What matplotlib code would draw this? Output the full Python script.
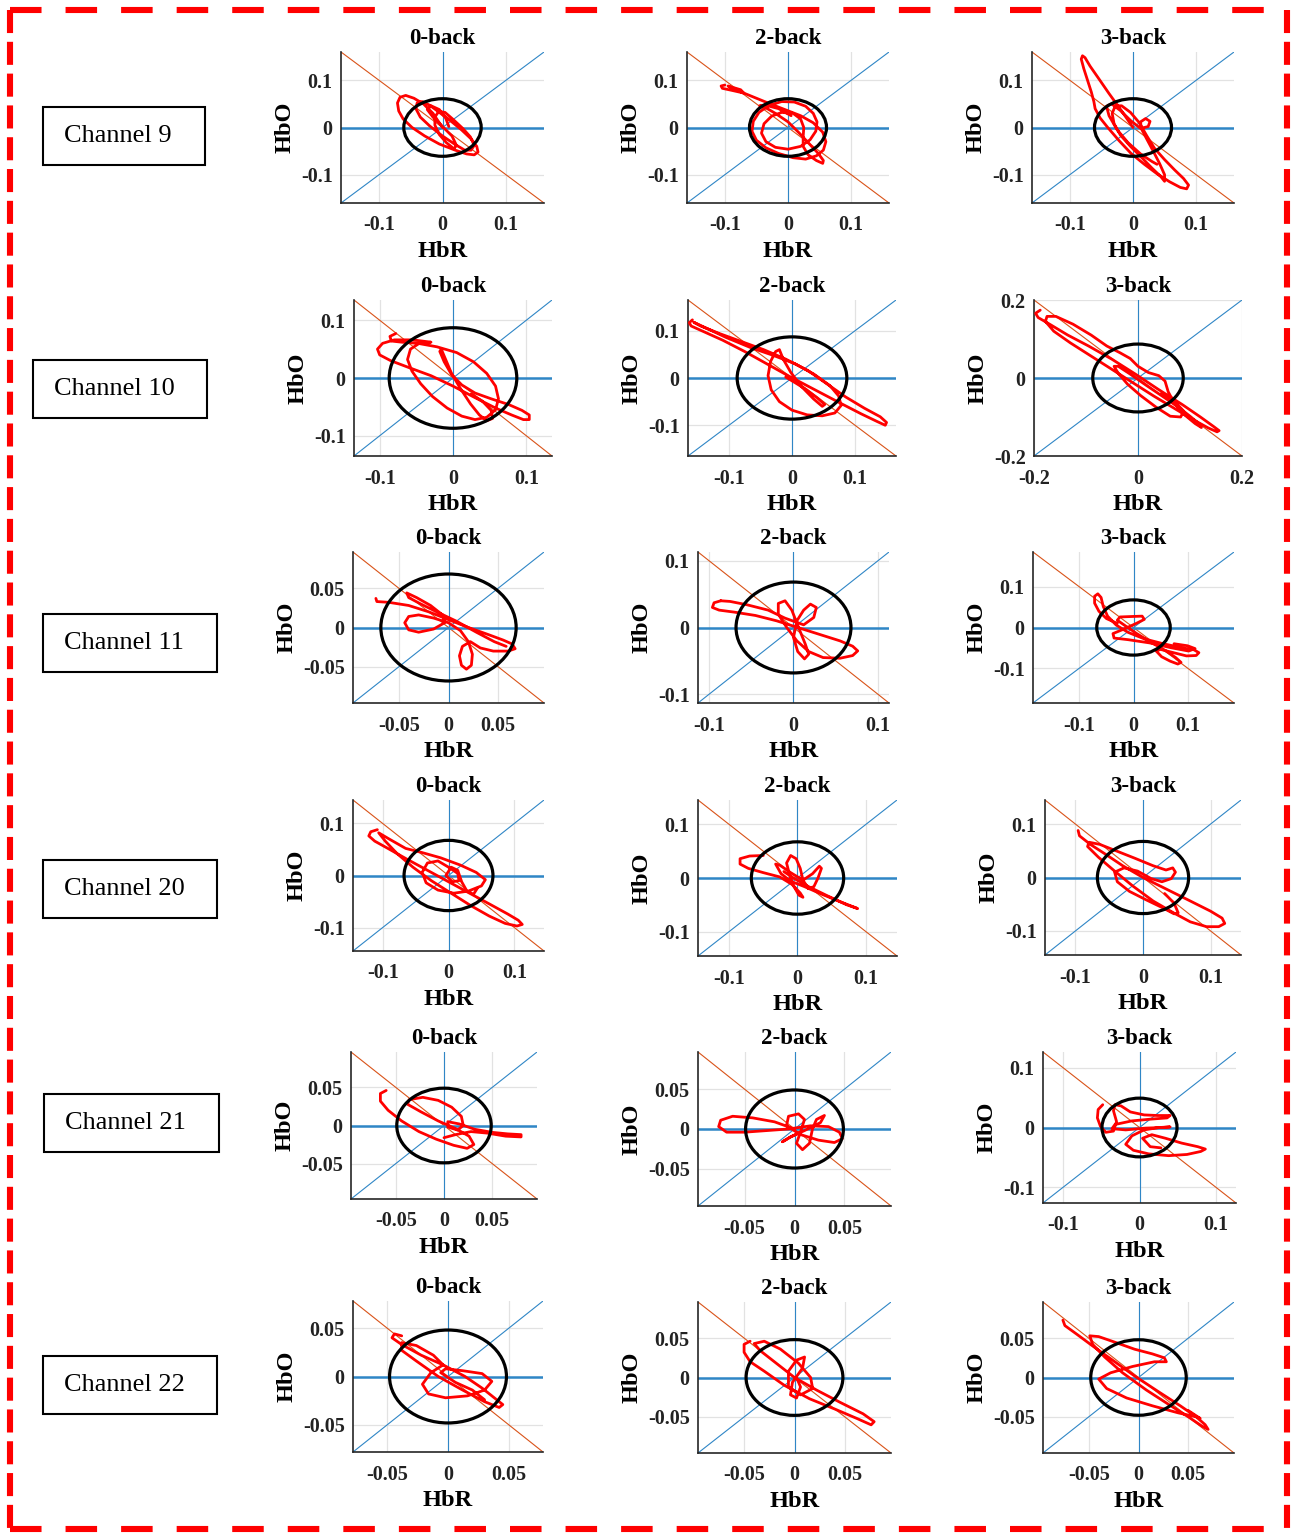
import matplotlib.pyplot as plt
import numpy as np
from matplotlib.patches import Circle, Rectangle
from matplotlib.lines import Line2D

plt.rcParams['font.family'] = ['Liberation Serif', 'DejaVu Serif']
plt.rcParams['axes.unicode_minus'] = False
plt.rcParams['lines.scale_dashes'] = False

W, H = 1296, 1534

channels = ["Channel 9", "Channel 10", "Channel 11", "Channel 20", "Channel 21", "Channel 22"]
tasks = ["0-back", "2-back", "3-back"]

# axis half-range per panel (row = channel, col = task)
axis_lim = [
    [0.16, 0.16, 0.16],
    [0.135, 0.165, 0.2],
    [0.096, 0.113, 0.186],
    [0.145, 0.1455, 0.145],
    [0.0965, 0.0967, 0.126],
    [0.078, 0.0957, 0.096],
]
tick_vals = [
    [[-0.1, 0, 0.1], [-0.1, 0, 0.1], [-0.1, 0, 0.1]],
    [[-0.1, 0, 0.1], [-0.1, 0, 0.1], [-0.2, 0, 0.2]],
    [[-0.05, 0, 0.05], [-0.1, 0, 0.1], [-0.1, 0, 0.1]],
    [[-0.1, 0, 0.1], [-0.1, 0, 0.1], [-0.1, 0, 0.1]],
    [[-0.05, 0, 0.05], [-0.05, 0, 0.05], [-0.1, 0, 0.1]],
    [[-0.05, 0, 0.05], [-0.05, 0, 0.05], [-0.05, 0, 0.05]],
]
# radius of the black reference circle for each channel
circle_r = [0.061, 0.087, 0.068, 0.0675, 0.049, 0.048]

# HbR / HbO trajectories as (HbR, HbO) pairs
ch9_0back = [(0.0, 0.0), (-0.015, 0.03), (-0.03, 0.05), (-0.045, 0.062), (-0.058, 0.068), (-0.067, 0.064),
             (-0.071, 0.052), (-0.069, 0.035), (-0.062, 0.018), (-0.048, 0.0), (-0.028, -0.018), (-0.005, -0.035),
             (0.02, -0.048), (0.038, -0.056), (0.05, -0.058), (0.056, -0.052), (0.054, -0.04), (0.045, -0.024),
             (0.03, -0.005), (0.012, 0.015), (-0.005, 0.032), (-0.02, 0.047), (-0.032, 0.055), (-0.04, 0.052),
             (-0.042, 0.04), (-0.035, 0.022), (-0.02, 0.003), (0.0, -0.018), (0.02, -0.036), (0.035, -0.048),
             (0.045, -0.048), (0.05, -0.038), (0.044, -0.02), (0.032, -0.002), (0.016, 0.018), (0.004, 0.032),
             (-0.006, 0.034), (-0.012, 0.022), (-0.012, 0.005), (-0.005, -0.015), (0.006, -0.032), (0.018, -0.045),
             (0.022, -0.038), (0.015, -0.018), (0.0, 0.002), (-0.015, 0.022), (-0.024, 0.038), (-0.018, 0.046),
             (-0.005, 0.038), (0.005, 0.02), (0.01, 0.002)]
ch9_2back = [(-0.1, 0.09), (-0.106, 0.088), (-0.104, 0.083), (-0.09, 0.079), (-0.07, 0.073), (-0.075, 0.08),
             (-0.095, 0.088), (-0.09, 0.084), (-0.072, 0.074), (-0.05, 0.062), (-0.028, 0.05), (-0.005, 0.038),
             (0.02, 0.025), (0.04, 0.01), (0.055, -0.01), (0.06, -0.03), (0.056, -0.048), (0.045, -0.06),
             (0.028, -0.067), (0.008, -0.064), (-0.015, -0.055), (-0.035, -0.043), (-0.05, -0.027), (-0.057, -0.008),
             (-0.055, 0.013), (-0.046, 0.032), (-0.03, 0.047), (-0.01, 0.055), (0.01, 0.054), (0.028, 0.045),
             (0.04, 0.03), (0.046, 0.012), (0.044, -0.008), (0.035, -0.026), (0.02, -0.04), (0.0, -0.046),
             (-0.02, -0.042), (-0.035, -0.03), (-0.042, -0.012), (-0.038, 0.008), (-0.026, 0.024), (-0.01, 0.032),
             (0.008, 0.03), (0.02, 0.018), (0.025, 0.0), (0.024, -0.02), (0.024, -0.04), (0.032, -0.058),
             (0.045, -0.07), (0.055, -0.076), (0.056, -0.07), (0.048, -0.055), (0.034, -0.035), (0.018, -0.012),
             (0.0, 0.012), (-0.02, 0.03), (-0.038, 0.044), (-0.045, 0.046), (-0.035, 0.047), (-0.015, 0.04),
             (0.005, 0.025)]
ch9_3back = [(0.0, 0.0), (-0.018, 0.035), (-0.038, 0.072), (-0.055, 0.105), (-0.068, 0.13), (-0.076, 0.148),
             (-0.08, 0.152), (-0.082, 0.145), (-0.078, 0.125), (-0.072, 0.1), (-0.066, 0.075), (-0.062, 0.055),
             (-0.06, 0.04), (-0.052, 0.02), (-0.04, 0.0), (-0.022, -0.028), (-0.003, -0.055), (0.018, -0.078),
             (0.038, -0.098), (0.058, -0.115), (0.075, -0.127), (0.085, -0.13), (0.088, -0.122), (0.08, -0.108),
             (0.066, -0.09), (0.05, -0.068), (0.034, -0.044), (0.022, -0.018), (0.01, 0.01), (-0.004, 0.032),
             (-0.018, 0.046), (-0.028, 0.046), (-0.033, 0.03), (-0.03, 0.008), (-0.02, -0.016), (-0.004, -0.04),
             (0.014, -0.064), (0.03, -0.086), (0.044, -0.104), (0.05, -0.114), (0.05, -0.1), (0.042, -0.076),
             (0.032, -0.05), (0.022, -0.025), (0.013, -0.002), (0.012, 0.012), (0.02, 0.019), (0.027, 0.013),
             (0.024, 0.002), (0.012, -0.002), (-0.004, 0.015), (-0.02, 0.036), (-0.034, 0.05), (-0.042, 0.045),
             (-0.038, 0.025), (-0.025, -0.005), (-0.008, -0.032), (0.012, -0.056), (0.03, -0.072), (0.038, -0.078)]

ch10_0back = [(-0.078, 0.077), (-0.086, 0.072), (-0.084, 0.064), (-0.07, 0.062), (-0.048, 0.06), (-0.022, 0.054),
              (0.005, 0.044), (0.028, 0.028), (0.046, 0.008), (0.058, -0.014), (0.062, -0.036), (0.058, -0.055),
              (0.046, -0.068), (0.03, -0.072), (0.012, -0.066), (-0.008, -0.052), (-0.028, -0.032), (-0.044, -0.01),
              (-0.056, 0.012), (-0.062, 0.032), (-0.058, 0.05), (-0.046, 0.06), (-0.03, 0.062), (-0.055, 0.066),
              (-0.08, 0.066), (-0.096, 0.06), (-0.103, 0.05), (-0.1, 0.04), (-0.085, 0.03), (-0.06, 0.018),
              (-0.03, 0.004), (0.0, -0.014), (0.03, -0.034), (0.058, -0.052), (0.08, -0.064), (0.096, -0.072),
              (0.104, -0.072), (0.104, -0.064), (0.094, -0.056), (0.076, -0.046), (0.052, -0.036), (0.03, -0.026),
              (0.012, -0.012), (-0.002, 0.006), (-0.012, 0.028), (-0.018, 0.046), (-0.016, 0.05), (-0.01, 0.032),
              (-0.002, 0.008), (0.01, -0.018), (0.024, -0.045), (0.036, -0.064), (0.046, -0.074), (0.054, -0.07),
              (0.052, -0.056), (0.04, -0.04), (0.025, -0.028)]
ch10_2back = [(-0.158, 0.123), (-0.163, 0.117), (-0.16, 0.11), (-0.14, 0.098), (-0.11, 0.08), (-0.075, 0.056),
              (-0.04, 0.03), (-0.005, 0.004), (0.035, -0.024), (0.075, -0.052), (0.11, -0.076), (0.135, -0.092),
              (0.148, -0.1), (0.15, -0.094), (0.14, -0.082), (0.115, -0.064), (0.085, -0.04), (0.055, -0.012),
              (0.025, 0.016), (-0.01, 0.04), (-0.045, 0.06), (-0.08, 0.077), (-0.115, 0.094), (-0.145, 0.11),
              (-0.156, 0.118), (-0.14, 0.108), (-0.105, 0.086), (-0.065, 0.064), (-0.03, 0.048), (0.005, 0.03),
              (0.035, 0.008), (0.06, -0.016), (0.074, -0.038), (0.078, -0.058), (0.068, -0.074), (0.048, -0.08),
              (0.024, -0.078), (0.0, -0.068), (-0.02, -0.05), (-0.033, -0.025), (-0.038, 0.005), (-0.034, 0.035),
              (-0.026, 0.056), (-0.02, 0.06), (-0.014, 0.04), (-0.002, 0.012), (0.015, -0.018), (0.034, -0.044),
              (0.048, -0.06), (0.052, -0.056), (0.04, -0.042), (0.022, -0.024), (0.005, -0.01), (-0.01, 0.002)]
ch10_3back = [(-0.188, 0.174), (-0.197, 0.166), (-0.192, 0.155), (-0.17, 0.138), (-0.135, 0.11), (-0.095, 0.082),
              (-0.05, 0.048), (-0.005, 0.01), (0.04, -0.03), (0.085, -0.068), (0.12, -0.1), (0.145, -0.124),
              (0.156, -0.135), (0.152, -0.138), (0.135, -0.128), (0.105, -0.106), (0.07, -0.078), (0.03, -0.046),
              (-0.01, -0.012), (-0.05, 0.022), (-0.09, 0.056), (-0.13, 0.09), (-0.162, 0.12), (-0.178, 0.145),
              (-0.175, 0.158), (-0.158, 0.158), (-0.125, 0.138), (-0.09, 0.11), (-0.06, 0.082), (-0.035, 0.065),
              (-0.015, 0.05), (0.0, 0.03), (0.02, 0.014), (0.04, 0.006), (0.052, -0.008), (0.058, -0.035),
              (0.07, -0.065), (0.09, -0.095), (0.11, -0.117), (0.122, -0.127), (0.118, -0.118), (0.1, -0.098),
              (0.075, -0.072), (0.045, -0.045), (0.015, -0.018), (-0.015, 0.01), (-0.038, 0.03), (-0.046, 0.03),
              (-0.038, 0.012), (-0.02, -0.016), (0.005, -0.045), (0.035, -0.075), (0.062, -0.098), (0.082, -0.1),
              (0.088, -0.085), (0.07, -0.06), (0.045, -0.04)]

ch11_0back = [(-0.073, 0.037), (-0.072, 0.033), (-0.06, 0.032), (-0.04, 0.028), (-0.02, 0.02), (0.0, 0.01),
              (0.02, 0.0), (0.04, -0.009), (0.055, -0.016), (0.064, -0.021), (0.067, -0.027), (0.06, -0.03),
              (0.045, -0.03), (0.032, -0.026), (0.022, -0.018), (0.014, -0.024), (0.011, -0.036), (0.013, -0.048),
              (0.018, -0.053), (0.023, -0.048), (0.024, -0.034), (0.02, -0.018), (0.012, -0.004), (0.0, 0.006),
              (-0.015, 0.012), (-0.03, 0.016), (-0.04, 0.014), (-0.044, 0.006), (-0.04, -0.003), (-0.03, -0.006),
              (-0.015, -0.002), (-0.004, 0.006), (-0.006, 0.016), (-0.018, 0.028), (-0.032, 0.038), (-0.042, 0.044),
              (-0.04, 0.038), (-0.028, 0.03), (-0.012, 0.02), (0.008, 0.008), (0.028, -0.006), (0.046, -0.018),
              (0.058, -0.024)]
ch11_2back = [(-0.086, 0.04), (-0.094, 0.037), (-0.096, 0.03), (-0.088, 0.026), (-0.07, 0.023), (-0.045, 0.018),
              (-0.02, 0.01), (0.005, 0.0), (0.03, -0.01), (0.055, -0.02), (0.07, -0.028), (0.076, -0.035),
              (0.07, -0.042), (0.055, -0.046), (0.035, -0.045), (0.018, -0.036), (0.004, -0.02), (-0.008, 0.0),
              (-0.018, 0.02), (-0.018, 0.036), (-0.01, 0.04), (-0.002, 0.026), (0.006, 0.0), (0.014, -0.025),
              (0.018, -0.04), (0.013, -0.047), (0.005, -0.036), (0.0, -0.015), (0.004, 0.01), (0.012, 0.026),
              (0.02, 0.035), (0.027, 0.03), (0.024, 0.015), (0.012, 0.004), (-0.01, 0.014), (-0.03, 0.026),
              (-0.055, 0.034), (-0.075, 0.039), (-0.086, 0.04)]
ch11_3back = [(-0.03, 0.01), (-0.05, 0.022), (-0.064, 0.04), (-0.072, 0.06), (-0.072, 0.077), (-0.066, 0.083),
              (-0.06, 0.074), (-0.056, 0.052), (-0.048, 0.028), (-0.032, 0.006), (-0.01, -0.012), (0.02, -0.028),
              (0.055, -0.04), (0.09, -0.05), (0.112, -0.055), (0.121, -0.062), (0.116, -0.069), (0.098, -0.07),
              (0.074, -0.062), (0.05, -0.054), (0.042, -0.058), (0.052, -0.072), (0.068, -0.083), (0.082, -0.09),
              (0.088, -0.086), (0.078, -0.074), (0.058, -0.056), (0.032, -0.036), (0.006, -0.015), (-0.015, 0.004),
              (-0.03, 0.018), (-0.025, 0.026), (-0.005, 0.027), (0.016, 0.028), (0.02, 0.02), (0.005, 0.01),
              (-0.018, -0.004), (-0.038, -0.015), (-0.036, -0.026), (-0.01, -0.03), (0.03, -0.038), (0.07, -0.05),
              (0.102, -0.058), (0.114, -0.052), (0.1, -0.045), (0.075, -0.04)]

ch20_0back = [(-0.108, 0.088), (-0.118, 0.084), (-0.121, 0.076), (-0.112, 0.066), (-0.092, 0.052), (-0.064, 0.032),
              (-0.032, 0.01), (0.0, -0.012), (0.032, -0.034), (0.064, -0.056), (0.09, -0.074), (0.106, -0.086),
              (0.112, -0.094), (0.104, -0.097), (0.086, -0.092), (0.062, -0.078), (0.034, -0.058), (0.004, -0.034),
              (-0.026, -0.01), (-0.054, 0.016), (-0.078, 0.042), (-0.096, 0.066), (-0.106, 0.082), (-0.09, 0.07),
              (-0.065, 0.052), (-0.04, 0.044), (-0.012, 0.034), (0.018, 0.02), (0.042, 0.006), (0.056, -0.008),
              (0.05, -0.02), (0.03, -0.03), (0.008, -0.034), (-0.016, -0.028), (-0.034, -0.014), (-0.04, 0.006),
              (-0.032, 0.024), (-0.016, 0.028), (0.0, 0.016), (0.014, 0.004), (0.016, -0.01), (0.006, -0.012),
              (-0.004, 0.0), (0.004, 0.016), (0.014, 0.01), (0.02, -0.012), (0.028, -0.03), (0.038, -0.036),
              (0.044, -0.024)]
ch20_2back = [(-0.05, 0.042), (-0.07, 0.041), (-0.084, 0.036), (-0.084, 0.026), (-0.072, 0.018), (-0.05, 0.01),
              (-0.026, 0.002), (-0.008, -0.012), (0.004, -0.028), (0.008, -0.036), (0.002, -0.032), (-0.006, -0.014),
              (-0.012, 0.008), (-0.016, 0.028), (-0.01, 0.042), (-0.002, 0.036), (0.004, 0.018), (0.008, -0.004),
              (0.016, -0.02), (0.024, -0.016), (0.03, 0.0), (0.035, 0.018), (0.032, 0.022), (0.022, 0.008),
              (0.008, -0.004), (-0.01, 0.01), (-0.026, 0.024), (-0.032, 0.026), (-0.024, 0.008), (-0.01, -0.006),
              (0.01, -0.016), (0.035, -0.03), (0.062, -0.044), (0.088, -0.057), (0.072, -0.05), (0.045, -0.034),
              (0.016, -0.016), (-0.006, 0.0), (-0.02, 0.012)]
ch20_3back = [(-0.096, 0.088), (-0.094, 0.078), (-0.078, 0.062), (-0.056, 0.044), (-0.03, 0.022), (0.0, 0.0),
              (0.035, -0.022), (0.07, -0.044), (0.1, -0.063), (0.117, -0.076), (0.121, -0.086), (0.112, -0.092),
              (0.094, -0.092), (0.07, -0.083), (0.045, -0.066), (0.015, -0.044), (-0.015, -0.016), (-0.042, 0.012),
              (-0.066, 0.038), (-0.082, 0.058), (-0.08, 0.066), (-0.064, 0.062), (-0.04, 0.05), (-0.012, 0.036),
              (0.015, 0.022), (0.034, 0.014), (0.044, 0.018), (0.048, 0.01), (0.042, -0.002), (0.028, -0.008),
              (0.012, -0.002), (-0.008, 0.012), (-0.028, 0.018), (-0.042, 0.01), (-0.038, -0.008), (-0.02, -0.026),
              (0.005, -0.042), (0.028, -0.056), (0.046, -0.068), (0.052, -0.066), (0.046, -0.048), (0.032, -0.03)]

ch21_0back = [(-0.06, 0.046), (-0.066, 0.042), (-0.066, 0.032), (-0.058, 0.02), (-0.044, 0.006), (-0.026, -0.008),
              (-0.008, -0.018), (0.01, -0.026), (0.024, -0.03), (0.031, -0.025), (0.026, -0.014), (0.012, -0.004),
              (-0.006, 0.006), (-0.024, 0.018), (-0.038, 0.028), (-0.036, 0.034), (-0.022, 0.037), (-0.006, 0.033),
              (0.008, 0.024), (0.018, 0.012), (0.02, 0.0), (0.014, -0.006), (0.004, -0.002), (0.004, 0.005),
              (0.016, 0.002), (0.032, -0.005), (0.05, -0.009), (0.066, -0.011), (0.08, -0.012), (0.08, -0.015),
              (0.064, -0.014), (0.045, -0.01), (0.028, -0.008), (0.012, -0.012), (0.0, -0.016)]
ch21_2back = [(0.0, 0.0), (-0.02, 0.009), (-0.042, 0.014), (-0.062, 0.016), (-0.074, 0.011), (-0.076, 0.003),
              (-0.068, -0.004), (-0.05, -0.004), (-0.028, -0.002), (-0.006, 0.0), (0.016, 0.004), (0.034, 0.003),
              (0.045, -0.004), (0.048, -0.012), (0.04, -0.017), (0.024, -0.014), (0.006, -0.007), (-0.008, 0.004),
              (-0.006, 0.016), (0.004, 0.019), (0.01, 0.012), (0.006, -0.004), (0.002, -0.018), (0.008, -0.026),
              (0.015, -0.018), (0.018, 0.0), (0.022, 0.012), (0.03, 0.017), (0.026, 0.008), (0.01, -0.002),
              (-0.004, -0.01), (-0.012, -0.016), (-0.004, -0.01), (0.006, -0.004)]
ch21_3back = [(-0.048, 0.038), (-0.054, 0.03), (-0.055, 0.016), (-0.051, 0.002), (-0.044, -0.008), (-0.034, -0.006),
              (-0.03, 0.01), (-0.034, 0.028), (-0.032, 0.038), (-0.024, 0.036), (-0.012, 0.026), (0.006, 0.021),
              (0.024, 0.02), (0.04, 0.02), (0.036, 0.016), (0.015, 0.014), (-0.01, 0.011), (-0.032, 0.005),
              (-0.036, -0.002), (-0.018, -0.004), (0.008, -0.001), (0.03, 0.0), (0.04, 0.001), (0.026, 0.0),
              (0.006, -0.004), (-0.01, -0.014), (-0.018, -0.028), (-0.008, -0.038), (0.012, -0.044), (0.038, -0.047),
              (0.062, -0.045), (0.08, -0.04), (0.086, -0.036), (0.076, -0.032), (0.055, -0.026), (0.034, -0.018),
              (0.016, -0.012), (0.004, -0.018), (0.014, -0.032), (0.028, -0.034)]

ch22_0back = [(-0.038, 0.042), (-0.044, 0.044), (-0.046, 0.04), (-0.038, 0.033), (-0.022, 0.022), (-0.004, 0.012),
              (0.014, 0.0), (0.028, -0.012), (0.038, -0.022), (0.045, -0.029), (0.042, -0.032), (0.03, -0.026),
              (0.012, -0.014), (-0.008, 0.0), (-0.026, 0.016), (-0.038, 0.027), (-0.038, 0.035), (-0.026, 0.032),
              (-0.012, 0.022), (-0.004, 0.012), (-0.014, 0.004), (-0.021, -0.008), (-0.016, -0.018), (-0.002, -0.022),
              (0.016, -0.02), (0.03, -0.014), (0.036, -0.005), (0.028, 0.003), (0.012, 0.006), (-0.002, 0.008),
              (-0.006, 0.004), (0.006, -0.006), (0.02, -0.014), (0.03, -0.024)]
ch22_2back = [(-0.044, 0.046), (-0.05, 0.042), (-0.05, 0.032), (-0.044, 0.02), (-0.03, 0.008), (-0.01, -0.01),
              (0.015, -0.027), (0.04, -0.04), (0.062, -0.052), (0.076, -0.06), (0.079, -0.056), (0.068, -0.046),
              (0.046, -0.032), (0.022, -0.016), (0.0, 0.0), (-0.018, 0.018), (-0.034, 0.034), (-0.04, 0.043),
              (-0.03, 0.046), (-0.014, 0.036), (0.004, 0.018), (0.016, 0.0), (0.018, -0.014), (0.006, -0.022),
              (-0.006, -0.012), (-0.006, 0.008), (0.002, 0.022), (0.01, 0.026), (0.008, 0.012), (-0.002, -0.006),
              (-0.004, -0.022), (0.002, -0.026), (0.006, -0.012), (0.002, 0.0)]
ch22_3back = [(-0.076, 0.073), (-0.074, 0.066), (-0.062, 0.055), (-0.046, 0.04), (-0.026, 0.022), (-0.004, 0.002),
              (0.02, -0.018), (0.042, -0.036), (0.058, -0.05), (0.067, -0.06), (0.07, -0.066), (0.064, -0.062),
              (0.05, -0.05), (0.03, -0.034), (0.008, -0.016), (-0.016, 0.006), (-0.034, 0.026), (-0.046, 0.042),
              (-0.049, 0.053), (-0.04, 0.052), (-0.024, 0.045), (-0.004, 0.036), (0.014, 0.03), (0.026, 0.025),
              (0.028, 0.02), (0.016, 0.02), (-0.006, 0.014), (-0.028, 0.006), (-0.04, -0.002), (-0.032, -0.014),
              (-0.012, -0.026), (0.014, -0.036), (0.04, -0.045), (0.058, -0.05), (0.062, -0.052), (0.05, -0.042)]

traj = [
    [ch9_0back, ch9_2back, ch9_3back],
    [ch10_0back, ch10_2back, ch10_3back],
    [ch11_0back, ch11_2back, ch11_3back],
    [ch20_0back, ch20_2back, ch20_3back],
    [ch21_0back, ch21_2back, ch21_3back],
    [ch22_0back, ch22_2back, ch22_3back],
]

# panel boxes in pixels: left, top, right, bottom
panel_px = [
    [(341, 52, 544, 203), (687, 52, 889, 203), (1032, 52, 1234, 203)],
    [(354, 300, 552, 456), (688, 300, 896, 456), (1034, 300, 1242, 456)],
    [(353, 552, 544, 703), (698, 552, 889, 703), (1033, 552, 1234, 703)],
    [(353, 800, 544, 951), (698, 800, 897, 956), (1045, 800, 1241, 955)],
    [(351, 1052, 537, 1199), (698, 1052, 891, 1206), (1043, 1052, 1236, 1203)],
    [(353, 1301, 543, 1452), (698, 1302, 891, 1453), (1043, 1302, 1234, 1453)],
]
label_px = [(43, 107, 205, 165), (33, 360, 207, 418), (43, 614, 217, 672),
            (43, 860, 217, 918), (44, 1094, 219, 1152), (43, 1356, 217, 1414)]

blue = "#2f86c6"
orange = "#d95319"

fig = plt.figure(figsize=(W / 100, H / 100), dpi=100)

for i in range(len(channels)):
    for j in range(len(tasks)):
        l, t, r, b = panel_px[i][j]
        ax = fig.add_axes([l / W, 1 - b / H, (r - l) / W, (b - t) / H])
        lim = axis_lim[i][j]
        ax.set_xlim(-lim, lim)
        ax.set_ylim(-lim, lim)

        ax.axline((0, 0), slope=1, color=blue, lw=0.8, zorder=1)
        ax.axline((0, 0), slope=-1, color=orange, lw=0.8, zorder=1)
        ax.axhline(0, color=blue, lw=1.8, zorder=1.5)
        ax.axvline(0, color=blue, lw=0.8, zorder=1.5)

        pts = np.array(traj[i][j])
        ax.plot(pts[:, 0], pts[:, 1], color="red", lw=2.0, solid_joinstyle="round",
                solid_capstyle="round", zorder=3)
        ax.add_patch(Circle((0, 0), circle_r[i], fill=False, ec="black", lw=2.3, zorder=4))

        ticks = tick_vals[i][j]
        ax.set_xticks(ticks)
        ax.set_yticks(ticks)
        ax.set_xticklabels([f"{v:g}" for v in ticks])
        ax.set_yticklabels([f"{v:g}" for v in ticks])
        ax.tick_params(labelsize=14.5, direction="in", length=0, colors="#222222")
        ax.tick_params(axis="x", pad=9)
        ax.tick_params(axis="y", pad=6)
        for lab in ax.get_xticklabels() + ax.get_yticklabels():
            lab.set_fontweight("bold")

        ax.grid(True, color="#e2e2e2", lw=0.9)
        ax.set_axisbelow(True)
        ax.spines["top"].set_visible(False)
        ax.spines["right"].set_visible(False)
        ax.spines["left"].set_color("#262626")
        ax.spines["bottom"].set_color("#262626")
        ax.spines["left"].set_linewidth(1.2)
        ax.spines["bottom"].set_linewidth(1.2)

        ax.set_title(tasks[j], fontsize=16.5, fontweight="bold", pad=6)
        ax.set_xlabel("HbR", fontsize=17.5, fontweight="bold", labelpad=4)
        ax.set_ylabel("HbO", fontsize=17.5, fontweight="bold", labelpad=4)

# channel name boxes
for name, (l, t, r, b) in zip(channels, label_px):
    fig.patches.append(Rectangle((l / W, 1 - b / H), (r - l) / W, (b - t) / H,
                                 transform=fig.transFigure, fill=False, ec="black", lw=1.5))
    fig.text(((l + r) / 2 - 6) / W, 1 - (t + b) / 2 / H, name, fontsize=19,
             ha="center", va="center")

# red dashed frame round the whole figure
x0, x1 = 10 / W, 1287 / W
y0, y1 = 1 - 1529 / H, 1 - 10 / H
for xs, ys, dash in [([x0, x1], [y1, y1], (22.7, 17.3)),
                     ([x0, x1], [y0, y0], (22.7, 17.3)),
                     ([x0, x0], [y1, y0], (16.6, 6.3)),
                     ([x1, x1], [y1, y0], (16.6, 6.3))]:
    fig.lines.append(Line2D(xs, ys, transform=fig.transFigure, color="red",
                            lw=4.4, dashes=dash, dash_capstyle="butt"))

fig.savefig("out.png", dpi=100, facecolor="white")
